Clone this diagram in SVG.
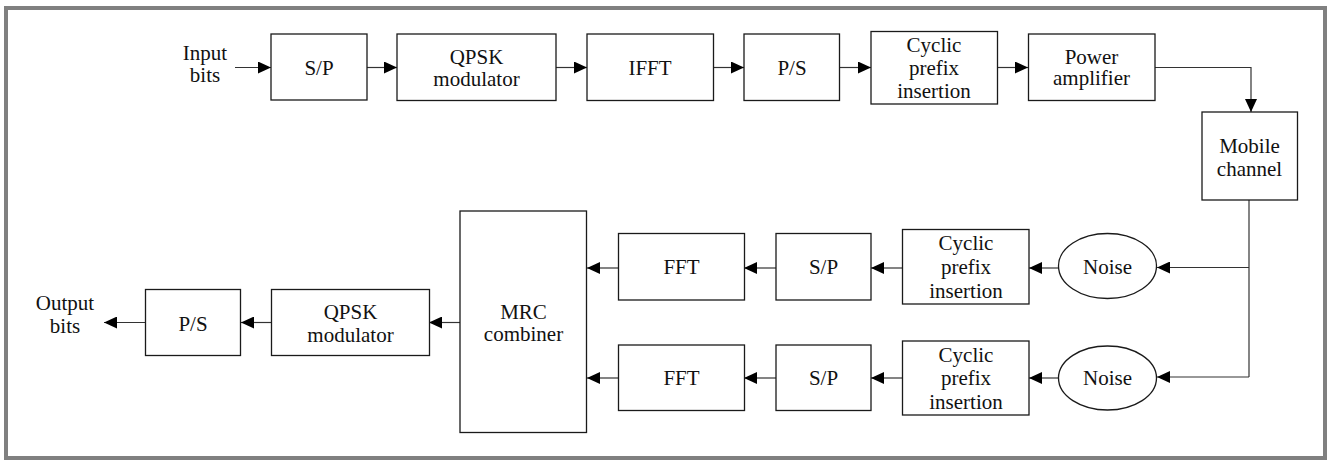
<svg xmlns="http://www.w3.org/2000/svg" width="1327" height="461" viewBox="0 0 1327 461" font-family="Times New Roman, Liberation Serif, Tinos, DejaVu Serif, Noto Serif, serif">
<style>
  .box { fill: #ffffff; stroke: #1a1a1a; stroke-width: 1.3; }
  text { font-size: 21px; fill: #111; text-anchor: middle; }
  .wire { fill: none; stroke: #333; stroke-width: 1.2; }
  .arr { marker-end: url(#ah); }
</style>
<defs>
  <marker id="ah" viewBox="0 0 13 12" refX="13" refY="6" markerWidth="13" markerHeight="12" markerUnits="userSpaceOnUse" orient="auto">
    <path d="M0,0 L13,6 L0,12 Z" fill="#000"/>
  </marker>
</defs>
<rect x="0" y="0" width="1327" height="461" fill="#ffffff"/>
<rect x="6" y="8" width="1319" height="450" fill="none" stroke="#808080" stroke-width="4"/>

<g id="connectors">
  <path class="wire arr" d="M235,67.5 H271"/>
  <path class="wire arr" d="M367,67.5 H397"/>
  <path class="wire arr" d="M556,67.5 H587"/>
  <path class="wire arr" d="M713,67.5 H744"/>
  <path class="wire arr" d="M839,67.5 H871"/>
  <path class="wire arr" d="M997,67.5 H1028"/>
  <path class="wire arr" d="M1155,67.5 H1251 V112"/>
  <path class="wire" d="M1249,200 V377"/>
  <path class="wire arr" d="M1249,267.5 H1157"/>
  <path class="wire arr" d="M1249,377 H1157"/>
  <path class="wire arr" d="M1058,268 H1029"/>
  <path class="wire arr" d="M1058,378 H1029"/>
  <path class="wire arr" d="M902,268 H871"/>
  <path class="wire arr" d="M902,378 H871"/>
  <path class="wire arr" d="M776,268 H744"/>
  <path class="wire arr" d="M776,378 H744"/>
  <path class="wire arr" d="M618,268 H587"/>
  <path class="wire arr" d="M618,378 H587"/>
  <path class="wire arr" d="M460,322.5 H429"/>
  <path class="wire arr" d="M271,322.5 H241"/>
  <path class="wire arr" d="M146,322.5 H104"/>
</g>

<g id="input-bits">
  <text x="205" y="60">Input</text>
  <text x="205" y="82">bits</text>
</g>
<g id="sp-tx">
  <rect class="box" x="271" y="34" width="96" height="66"/>
  <text x="319" y="74.5">S/P</text>
</g>
<g id="qpsk-tx">
  <rect class="box" x="397" y="34" width="159" height="66.5"/>
  <text x="476.5" y="63.5">QPSK</text>
  <text x="476.5" y="86">modulator</text>
</g>
<g id="ifft">
  <rect class="box" x="587" y="34" width="126.5" height="66.5"/>
  <text x="650" y="75">IFFT</text>
</g>
<g id="ps-tx">
  <rect class="box" x="744" y="34" width="95.5" height="66.5"/>
  <text x="792" y="75">P/S</text>
</g>
<g id="cp-tx">
  <rect class="box" x="871" y="31.5" width="126.5" height="72.5"/>
  <text x="934" y="52">Cyclic</text>
  <text x="934" y="75">prefix</text>
  <text x="934" y="97.5">insertion</text>
</g>
<g id="power-amp">
  <rect class="box" x="1028.5" y="34" width="126.5" height="66.5"/>
  <text x="1091.5" y="63.5">Power</text>
  <text x="1091.5" y="85">amplifier</text>
</g>
<g id="mobile-channel">
  <rect class="box" x="1202" y="112" width="95.5" height="88"/>
  <text x="1249.5" y="152.5">Mobile</text>
  <text x="1249.5" y="175.5">channel</text>
</g>
<g id="noise1">
  <ellipse class="box" cx="1107.5" cy="266" rx="49" ry="32.5"/>
  <text x="1107.5" y="273.5">Noise</text>
</g>
<g id="noise2">
  <ellipse class="box" cx="1107.5" cy="378" rx="49" ry="32"/>
  <text x="1107.5" y="385">Noise</text>
</g>
<g id="cp-rx1">
  <rect class="box" x="902.5" y="229.5" width="126.5" height="74.5"/>
  <text x="966" y="250">Cyclic</text>
  <text x="966" y="274">prefix</text>
  <text x="966" y="297.5">insertion</text>
</g>
<g id="cp-rx2">
  <rect class="box" x="902.5" y="341" width="126.5" height="74"/>
  <text x="966" y="362">Cyclic</text>
  <text x="966" y="385">prefix</text>
  <text x="966" y="408.5">insertion</text>
</g>
<g id="sp-rx1">
  <rect class="box" x="776" y="233.5" width="95" height="66.5"/>
  <text x="823.5" y="274">S/P</text>
</g>
<g id="sp-rx2">
  <rect class="box" x="776" y="345" width="95" height="65.5"/>
  <text x="823.5" y="385">S/P</text>
</g>
<g id="fft1">
  <rect class="box" x="618.5" y="233.5" width="126" height="66.5"/>
  <text x="681.5" y="274">FFT</text>
</g>
<g id="fft2">
  <rect class="box" x="618.5" y="345" width="126" height="65.5"/>
  <text x="681.5" y="385">FFT</text>
</g>
<g id="mrc">
  <rect class="box" x="460" y="211" width="126.5" height="221.5"/>
  <text x="523.5" y="318.5">MRC</text>
  <text x="523.5" y="340.5">combiner</text>
</g>
<g id="qpsk-rx">
  <rect class="box" x="271.5" y="289.5" width="158" height="66"/>
  <text x="350.5" y="318.5">QPSK</text>
  <text x="350.5" y="341.5">modulator</text>
</g>
<g id="ps-rx">
  <rect class="box" x="145.5" y="289.5" width="95" height="66"/>
  <text x="193" y="330.5">P/S</text>
</g>
<g id="output-bits">
  <text x="65" y="310">Output</text>
  <text x="65" y="333">bits</text>
</g>
</svg>
